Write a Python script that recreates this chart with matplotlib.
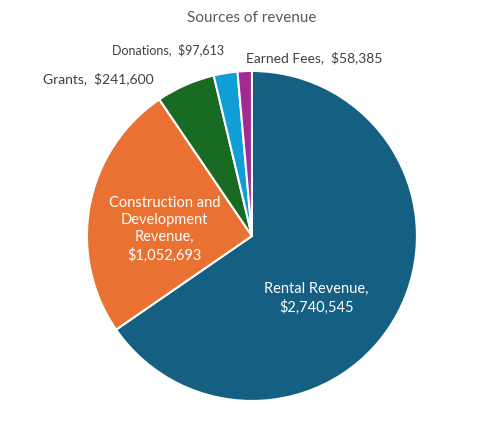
import matplotlib
matplotlib.use("Agg")
import matplotlib.pyplot as plt

categories = ["Rental Revenue", "Construction and Development Revenue", "Grants", "Donations", "Earned Fees"]
values = [2740545, 1052693, 241600, 97613, 58385]
label_texts = ["Rental Revenue,\n$2,740,545", "Construction and\nDevelopment\nRevenue,\n$1,052,693",
               "Grants,  $241,600", "Donations,  $97,613", "Earned Fees,  $58,385"]
colors = ["#156082", "#e97132", "#196b24", "#0f9ed5", "#a02b93"]

plt.rcParams['font.family'] = ['Lato', 'DejaVu Sans']
fig = plt.figure(figsize=(4.94, 4.21), dpi=100)
ax = fig.add_axes([0.176, 0.0475, 0.668, 0.784])
ax.pie(values, colors=colors, startangle=90, counterclock=False,
       wedgeprops=dict(edgecolor="white", linewidth=1.5))
ax.set_xlim(-1, 1); ax.set_ylim(-1, 1)
ax.set_aspect('equal')

pos = [(0.39, -0.38), (-0.53, 0.04), (-0.93, 0.95), (-0.51, 1.13), (0.38, 1.08)]
tcol = ["white", "white", "#404040", "#404040", "#404040"]
fs = [10.5, 10.5, 10, 9, 10]
for t, p, c, f in zip(label_texts, pos, tcol, fs):
    ax.text(p[0], p[1], t, ha="center", va="center", color=c, fontsize=f,
            linespacing=1.3, clip_on=False)
ax.text(0, 1.32, "Sources of revenue", ha="center", va="center", fontsize=11,
        color="#595959", clip_on=False)
fig.savefig("out.png", dpi=100, facecolor="white")
